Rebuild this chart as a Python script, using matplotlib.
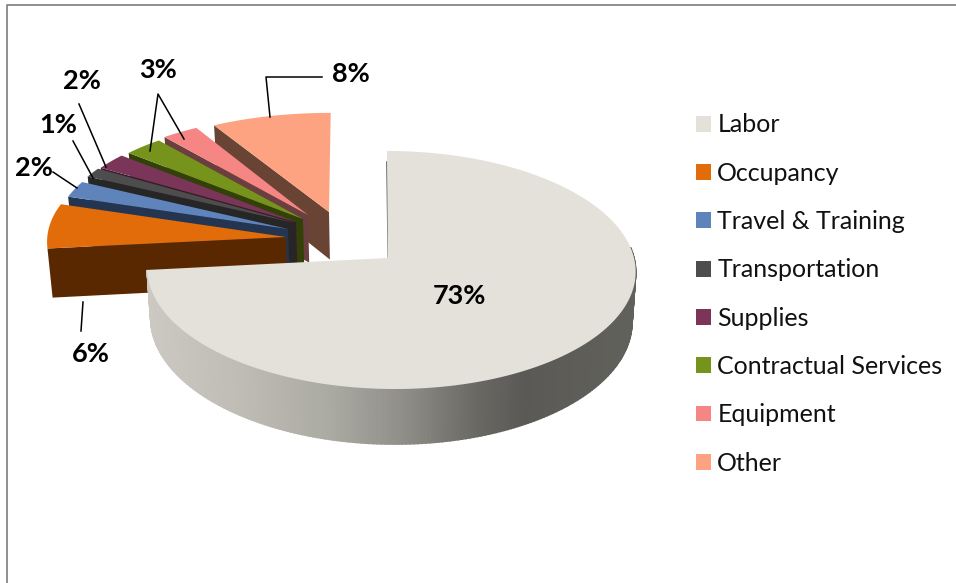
import matplotlib
matplotlib.use("Agg")
import matplotlib.pyplot as plt
from matplotlib.patches import Patch
import numpy as np

categories = ['Labor', 'Occupancy', 'Travel & Training', 'Transportation',
              'Supplies', 'Contractual Services', 'Equipment', 'Other']
values = [73.4, 6.4, 2.4, 1.4, 2.4, 2.9, 2.7, 8.4]

top_colors = ['#e3e1da', '#e26b0a', '#5f84bc', '#4d4d4d', '#7a3558', '#76941c', '#f58683', '#fda382']
wall_colors = ['#8f8d87', '#592800', '#233550', '#262626', '#3c1a2b', '#314108', '#6b3f3f', '#694435']

# where each slice tip sits in the picture (exploded pie), and its width
tips = [(388, 258), (286, 237), (288, 229), (295, 223), (296, 222), (303, 219), (308, 215), (329, 212)]
radii = [243, 240, 235, 237, 235, 235, 234, 240]

# pixel position of each percent label and its leader lines
label_pos = [(459, 296), (91, 354), (34, 168), (58, 125), (82, 81), (158, 70), None, (351, 74)]
leaders = [
    [(83, 302), (81, 331)],
    [(53, 172), (77, 188)],
    [(73, 141), (93, 178)],
    [(79, 104), (106, 167)],
    [(150, 151), (158, 94), (184, 139)],
    [(322, 77), (266, 77), (270, 117)],
]

# labor side wall shading, by x pixel
grad_x = [147, 240, 330, 400, 480, 525, 640]
grad_r = [203, 190, 170, 145, 104, 90, 98]
grad_g = [201, 188, 169, 143, 103, 89, 98]
grad_b = [193, 181, 162, 137, 98, 86, 92]


def project(u, v, r, k=0.03, shear=0.0):
    x = 388 + r * u / (1 + k * v) - shear * v
    y = (258 - 91.8 * v) / (1 + 0.1008 * v)
    return x, y


def unproject(px, py, r, k=0.03):
    v = (258 - py) / (91.8 + 0.1008 * py)
    u = (px - 388) * (1 + k * v) / r
    return u, v


def drop(x, v):
    # bottom of the pie: a bit lower and slightly narrower
    return 388 + (np.asarray(x) - 388) * 0.985, 49.5 / (1 + 0.1 * np.asarray(v))


fig = plt.figure(figsize=(9.56, 5.83), dpi=100)
ax = fig.add_axes([0, 0, 1, 1])
ax.set_xlim(0, 956)
ax.set_ylim(583, 0)
ax.axis('off')

plt.rcParams['font.family'] = ['Lato', 'DejaVu Sans']

# chart frame, only top and left show
ax.plot([7.5, 7.5, 956], [583, 4.5, 4.5], color='#868686', lw=1.3)

fractions = np.array(values) / sum(values)
ends = 90 - 360 * np.cumsum(fractions)
starts = ends + 360 * fractions

# back to front
for i in range(len(values) - 1, 0, -1):
    du, dv = unproject(tips[i][0], tips[i][1], radii[i])
    a = np.radians(np.linspace(ends[i], starts[i], 60))[::-1]
    ru, rv = du + np.cos(a), dv + np.sin(a)
    rx, ry = project(ru, rv, radii[i])
    bx, dy = drop(rx, rv)
    # straight wall facing the viewer
    bx_t, dy_t = drop(tips[i][0], dv)
    ax.fill([tips[i][0], rx[0], bx[0], bx_t], [tips[i][1], ry[0], ry[0] + dy[0], tips[i][1] + dy_t],
            color=wall_colors[i], lw=0)
    ax.fill(np.r_[tips[i][0], rx], np.r_[tips[i][1], ry], color=top_colors[i], lw=0)

# labor slice on top, its side wall has a gradient
a = np.radians(np.linspace(starts[0], ends[0], 300))
ru, rv = np.cos(a), np.sin(a)
rx, ry = project(ru, rv, radii[0], k=0.1, shear=4)
rx = rx + 3
bx, dy = drop(rx, rv)
for j in range(len(a) - 1):
    if rv[j] > 0.1:
        continue
    xm = (rx[j] + rx[j + 1]) / 2
    col = (np.interp(xm, grad_x, grad_r) / 255, np.interp(xm, grad_x, grad_g) / 255,
           np.interp(xm, grad_x, grad_b) / 255)
    ax.fill([rx[j], rx[j + 1], bx[j + 1], bx[j]],
            [ry[j], ry[j + 1], ry[j + 1] + dy[j + 1], ry[j] + dy[j]], color=col, lw=1.2)
# thin sliver of the inner wall
ax.plot([386.8, 388.3], [162, 257], color='#6e6e6a', lw=1.1, zorder=1)
ax.fill(np.r_[tips[0][0], rx], np.r_[tips[0][1], ry], color=top_colors[0], lw=0)

for line in leaders:
    ax.plot([p[0] for p in line], [p[1] for p in line], color='black', lw=1.1)

for val, pos in zip(values, label_pos):
    if pos is not None:
        ax.text(pos[0], pos[1], f'{round(val)}%', ha='center', va='center',
                fontsize=19.5, fontweight='bold', color='black')

handles = [Patch(facecolor=c, edgecolor='none') for c in top_colors]
ax.legend(handles, categories, loc='upper left', bbox_to_anchor=(696 / 956, 1 - 113.5 / 583),
          frameon=False, fontsize=18, labelspacing=1.012, handlelength=0.6, handleheight=0.6,
          handletextpad=0.25, borderpad=0, borderaxespad=0, labelcolor='#111111')

plt.savefig('out.png', dpi=100)
